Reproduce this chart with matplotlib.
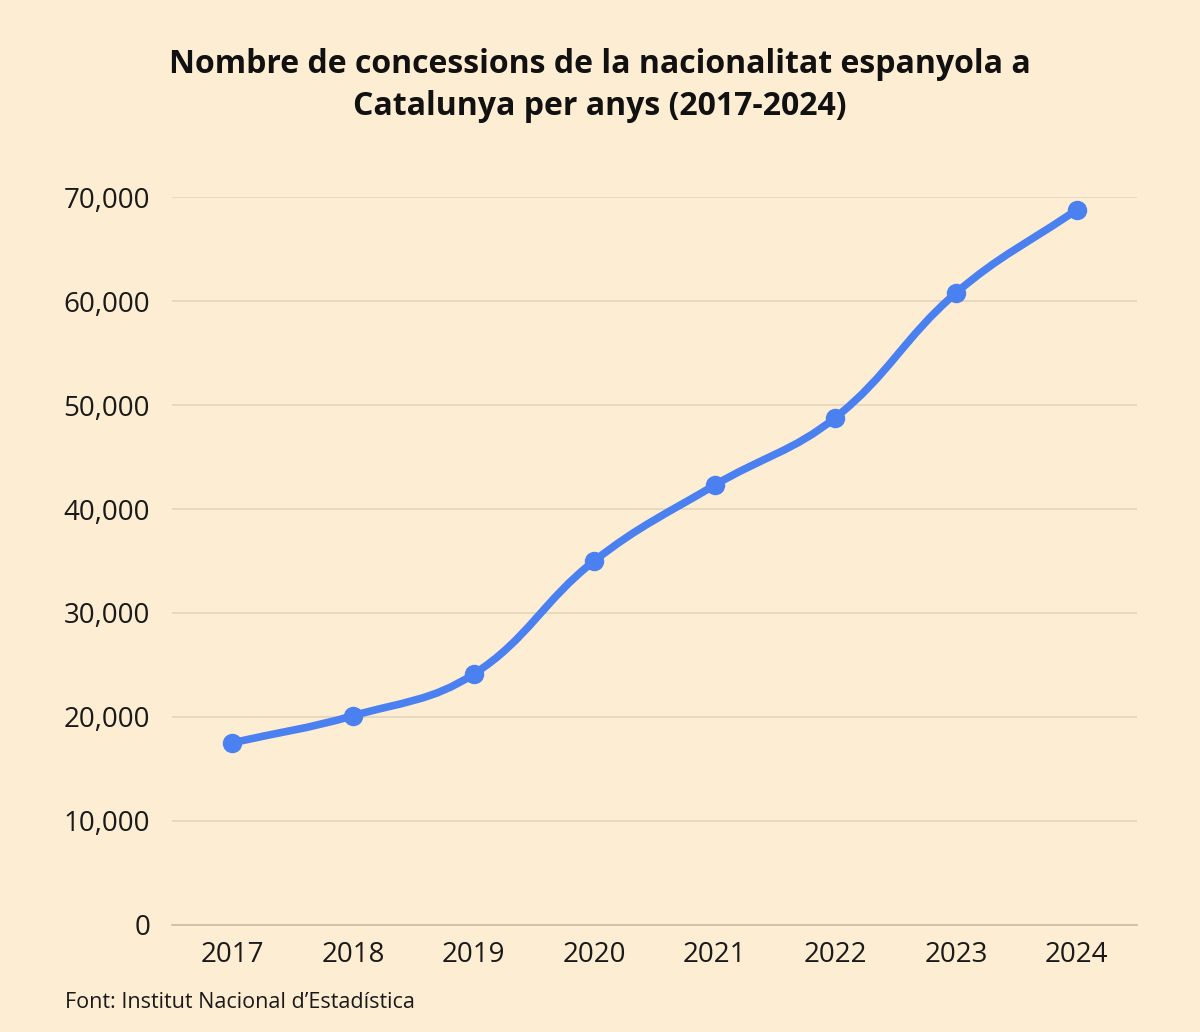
import numpy as np
import matplotlib
matplotlib.use('Agg')
import matplotlib.pyplot as plt
from matplotlib.path import Path
from matplotlib.patches import PathPatch
from matplotlib.ticker import FuncFormatter

plt.rcParams['font.family'] = ['Open Sans', 'DejaVu Sans']

years = ['2017', '2018', '2019', '2020', '2021', '2022', '2023', '2024']
concessions = [17500, 20100, 24100, 35000, 42300, 48800, 60800, 68800]

BG = '#FDEDD3'
BLUE = '#4A80F0'

fig = plt.figure(figsize=(12, 10.32), dpi=100, facecolor=BG)
ax = fig.add_axes([172/1200, 1 - 924.6/1032, 965/1200, 727.3/1032])
ax.set_facecolor(BG)

xs = np.arange(len(years), dtype=float)
ys = np.array(concessions, dtype=float)
ax.set_xlim(-0.5, len(years) - 0.5)
ax.set_ylim(0, 70000)


def spline_path(x, y, sx, sy, tension=0.4):
    # chart.js-style spline: control points computed in pixel-like space
    px, py = x * sx, y * sy
    n = len(px)
    verts = [(x[0], y[0])]
    codes = [Path.MOVETO]
    cps = []
    for i in range(n):
        pv = (px[i - 1], py[i - 1]) if i > 0 else (px[i], py[i])
        nx = (px[i + 1], py[i + 1]) if i < n - 1 else (px[i], py[i])
        d01 = np.hypot(px[i] - pv[0], py[i] - pv[1])
        d12 = np.hypot(nx[0] - px[i], nx[1] - py[i])
        tot = d01 + d12
        s01 = d01 / tot if tot else 0
        s12 = d12 / tot if tot else 0
        fa, fb = tension * s01, tension * s12
        prev_cp = (px[i] - fa * (nx[0] - pv[0]), py[i] - fa * (nx[1] - pv[1]))
        next_cp = (px[i] + fb * (nx[0] - pv[0]), py[i] + fb * (nx[1] - pv[1]))
        cps.append((prev_cp, next_cp))
    for i in range(1, n):
        c1 = cps[i - 1][1]
        c2 = cps[i][0]
        verts += [(c1[0] / sx, c1[1] / sy), (c2[0] / sx, c2[1] / sy), (x[i], y[i])]
        codes += [Path.CURVE4] * 3
    return Path(verts, codes)


path = spline_path(xs, ys, 120.6, 727.3 / 70000)
ax.add_patch(PathPatch(path, facecolor='none', edgecolor=BLUE, lw=5.5,
                       capstyle='round', joinstyle='round', zorder=3, clip_on=False))
ax.plot(xs, ys, 'o', color=BLUE, ms=13, zorder=4, clip_on=False)

ax.set_yticks(np.arange(0, 70001, 10000))
ax.yaxis.set_major_formatter(FuncFormatter(lambda v, p: f'{int(v):,}'))
ax.set_xticks(xs)
ax.set_xticklabels(years)
ax.grid(axis='y', color='#E1D3BB', lw=1.1)
ax.set_axisbelow(True)
for s in ['top', 'right', 'left']:
    ax.spines[s].set_visible(False)
ax.spines['bottom'].set_color('#C9BCA6')
ax.spines['bottom'].set_linewidth(1.2)
ax.tick_params(axis='both', length=0, labelsize=20, colors='#1a1a1a')
ax.tick_params(axis='y', pad=15.8)
ax.tick_params(axis='x', pad=11.5)

fig.text(0.5, 1 - 115/1032, 'Nombre de concessions de la nacionalitat espanyola a\nCatalunya per anys (2017-2024)',
         ha='center', va='baseline', fontsize=23, fontweight='bold', color='#111111',
         linespacing=1.35, multialignment='center')
fig.text(65/1200, 1 - 1008/1032, 'Font: Institut Nacional d\u2019Estadística',
         ha='left', va='baseline', fontsize=15.5, color='#1a1a1a')

fig.savefig('out.png', dpi=100, facecolor=BG)
